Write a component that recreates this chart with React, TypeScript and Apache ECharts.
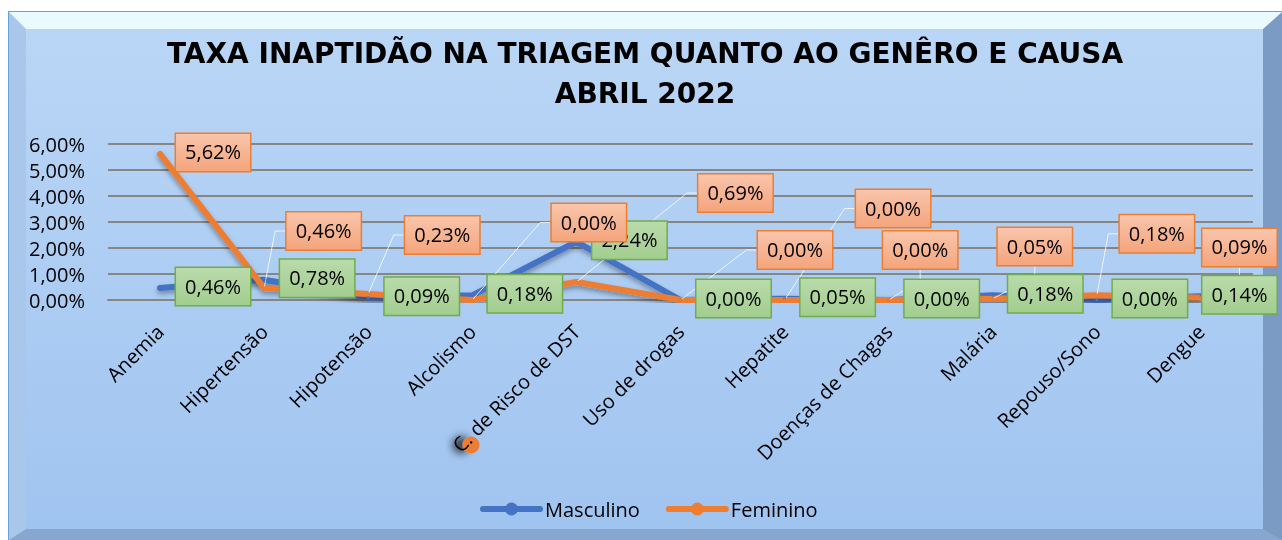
import React, { useEffect, useRef } from 'react';
import * as echarts from 'echarts';

const categories = [
  'Anemia',
  'Hipertensão',
  'Hipotensão',
  'Alcolismo',
  'C. de Risco de DST',
  'Uso de drogas',
  'Hepatite',
  'Doenças de Chagas',
  'Malária',
  'Repouso/Sono',
  'Dengue',
];
const masculino = [0.46, 0.78, 0.09, 0.18, 2.24, 0.0, 0.05, 0.0, 0.18, 0.0, 0.14];
const feminino = [5.62, 0.46, 0.23, 0.0, 0.69, 0.0, 0.0, 0.0, 0.05, 0.18, 0.09];
const seriesNames = ['Masculino', 'Feminino'];
const yMin = 0;
const yMax = 6;
const yInterval = 1;

// label placement (offset of label centre from its point, px) — styling only
const mascLabelOffset = [
  [54.5, 0], [54.5, 0], [55, 0], [54, 0], [54.5, 0], [54.5, 0],
  [54.5, 0], [54.5, 0], [54, 0], [54.5, 0], [40, 0],
];
const femLabelOffset = [
  [54.5, 0], [61, -55.5], [75.5, -57.5], [118, -76], [160.5, -87.5], [116, -48.5],
  [110, -90], [33, -48.5], [43.5, -50.7], [61.5, -60], [40, -48.7],
];

const FONT = "'Open Sans', sans-serif";
const TITLE_FONT = "'DejaVu Sans', sans-serif";
const fmt = (v: number) => v.toFixed(2).replace('.', ',') + '%';

export default function App() {
  const ref = useRef<HTMLDivElement>(null);

  useEffect(() => {
    const chart = echarts.init(ref.current!, null, { renderer: 'svg' });

    const labelBase = {
      show: true,
      position: 'inside',
      color: '#000',
      fontSize: 20,
      fontFamily: FONT,
      lineHeight: 20,
      padding: [8, 9, 9, 9],
      borderWidth: 1.5,
      formatter: (p: any) => fmt(p.value),
    };

    const greenBg = new echarts.graphic.LinearGradient(0, 0, 0, 1, [
      { offset: 0, color: '#b9dbab' },
      { offset: 1, color: '#a3cd8f' },
    ]);
    const orangeBg = new echarts.graphic.LinearGradient(0, 0, 0, 1, [
      { offset: 0, color: '#f9c5ab' },
      { offset: 1, color: '#f4a57c' },
    ]);

    const lineShadow = {
      shadowColor: 'rgba(0,0,0,0.35)',
      shadowBlur: 5,
      shadowOffsetY: 3,
    };

    const makeLayout = (offsets: number[][]) => (params: any) => {
      const o = offsets[params.dataIndex] || [0, 0];
      const lw = params.labelRect ? params.labelRect.width : 76;
      const lh = params.labelRect ? params.labelRect.height : 37;
      return {
        x: params.rect.x + params.rect.width / 2 + o[0] - lw / 2,
        y: params.rect.y + params.rect.height / 2 + o[1] - lh / 2,
      };
    };

    const option: any = {
      animation: false,
      backgroundColor: 'transparent',
      title: {
        text: 'TAXA INAPTIDÃO NA TRIAGEM QUANTO AO GENÊRO E CAUSA\nABRIL 2022',
        left: 645,
        top: 33,
        padding: 0,
        textAlign: 'center',
        textStyle: {
          fontFamily: TITLE_FONT,
          fontSize: 28,
          fontWeight: 'bold',
          color: '#000',
          lineHeight: 40,
        },
      },
      legend: {
        data: seriesNames,
        left: 475,
        top: 494,
        itemWidth: 57,
        itemHeight: 16,
        itemGap: 26,
        textStyle: { fontFamily: FONT, fontSize: 20, color: '#000' },
        lineStyle: { width: 6, cap: 'round', shadowBlur: 0, shadowColor: 'transparent', shadowOffsetY: 0 },
      },
      grid: { left: 108, right: 29, top: 144, bottom: 240 },
      xAxis: {
        type: 'category',
        data: categories,
        boundaryGap: true,
        axisTick: { show: false },
        axisLine: { show: true, lineStyle: { color: '#868686', width: 2 } },
        axisLabel: {
          interval: 0,
          rotate: 45,
          margin: 28,
          fontFamily: FONT,
          fontSize: 20,
          color: '#000',
        },
      },
      yAxis: {
        type: 'value',
        min: yMin,
        max: yMax,
        interval: yInterval,
        axisLine: { show: false },
        axisTick: { show: false },
        splitLine: { lineStyle: { color: '#868686', width: 2 } },
        axisLabel: {
          margin: 23,
          fontFamily: FONT,
          fontSize: 20,
          color: '#000',
          formatter: (v: number) => fmt(v),
        },
      },
      graphic: [
        {
          type: 'circle',
          z: -1,
          shape: { cx: 471, cy: 445, r: 8.5 },
          style: {
            fill: '#ed7d31',
            shadowBlur: 8,
            shadowColor: 'rgba(0,0,0,0.7)',
            shadowOffsetX: -10,
          },
        },
      ],
      series: [
        {
          name: seriesNames[0],
          type: 'line',
          data: masculino,
          color: '#4472c4',
          symbol: 'circle',
          symbolSize: 3,
          showSymbol: true,
          lineStyle: { width: 6, cap: 'round', join: 'round', ...lineShadow },
          label: {
            ...labelBase,
            backgroundColor: greenBg,
            borderColor: '#70ad47',
          },
          labelLine: { show: false },
          labelLayout: makeLayout(mascLabelOffset),
        },
        {
          name: seriesNames[1],
          type: 'line',
          data: feminino.map((v, i) =>
            i === 0 ? { value: v, labelLine: { show: false } } : v
          ),
          color: '#ed7d31',
          symbol: 'circle',
          symbolSize: 3,
          showSymbol: true,
          lineStyle: { width: 6, cap: 'round', join: 'round', ...lineShadow },
          label: {
            ...labelBase,
            backgroundColor: orangeBg,
            borderColor: '#ed7d31',
          },
          labelLine: {
            show: true,
            length2: 10,
            lineStyle: { color: 'rgba(255,255,255,0.8)', width: 1 },
          },
          labelLayout: makeLayout(femLabelOffset),
        },
      ],
    };

    chart.setOption(option);
    return () => chart.dispose();
  }, []);

  return (
    <div style={{ position: 'fixed', left: 0, top: 0, width: 1282, height: 540, overflow: 'hidden' }}>
      <div
        style={{
          position: 'absolute',
          left: 9,
          top: 12,
          width: 1273,
          height: 528,
          boxSizing: 'border-box',
          borderStyle: 'solid',
          borderWidth: '17px 19px 11px 17px',
          borderColor: '#e9fbff #7b9bc4 #87a7cf #a9c7ea',
          background: 'linear-gradient(#bad6f6, #a0c4f0)',
          boxShadow: '0 0 0 1px #6a9fd8',
        }}
      />
      <div ref={ref} style={{ position: 'absolute', left: 0, top: 0, width: 1282, height: 540 }} />
    </div>
  );
}
